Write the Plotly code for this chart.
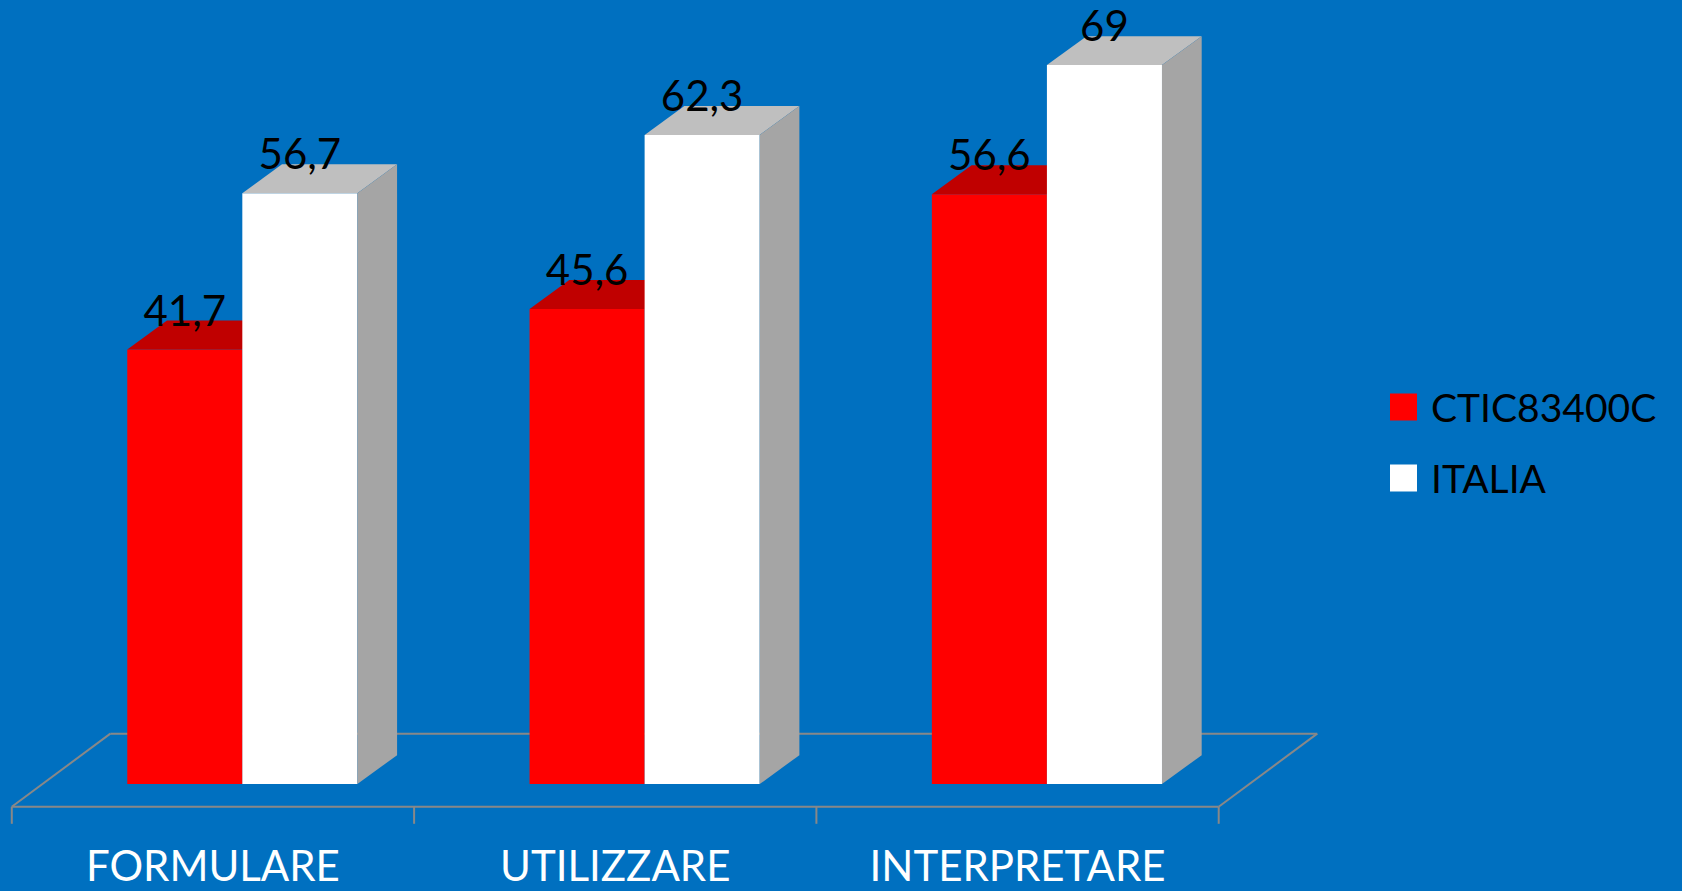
import plotly.graph_objects as go

# ---- data ----
categories = ["FORMULARE", "UTILIZZARE", "INTERPRETARE"]
series_names = ["CTIC83400C", "ITALIA"]
school = [41.7, 45.6, 56.6]
italia = [56.7, 62.3, 69]

# ---- styling / geometry (in axis units) ----
BG = "#0070C0"
FRONT = ["#FF0000", "#FFFFFF"]
TOP = ["#C00000", "#BFBFBF"]
SIDE = ["#A00000", "#A5A5A5"]
FLOOR_COL = "#888888"
FONT = "Lato"

BAR_W = 0.286
PAIR_OFF = 0.073
DEPTH_DX = 0.0987
DEPTH_DY = 2.78
FLOOR_FRONT = -2.17
FLOOR_BACK = 4.84
FLOOR_DX = 0.245
TICK_BOTTOM = -3.81
LABEL_GAP = 3.3
CAT_LABEL_Y = -8.3

def fmt(v):
    return str(v).replace(".", ",")

fig = go.Figure()

def poly(xs, ys, color):
    fig.add_trace(go.Scatter(x=xs + [xs[0]], y=ys + [ys[0]], mode="lines", fill="toself",
                             fillcolor=color, line=dict(width=0, color=color),
                             hoverinfo="skip", showlegend=False))

def line(xs, ys):
    fig.add_trace(go.Scatter(x=xs, y=ys, mode="lines", line=dict(color=FLOOR_COL, width=2),
                             hoverinfo="skip", showlegend=False))

n = len(categories)
# floor
x0, x1 = -0.5, n - 0.5
line([x0 + FLOOR_DX, x1 + FLOOR_DX], [FLOOR_BACK, FLOOR_BACK])
line([x0, x0 + FLOOR_DX], [FLOOR_FRONT, FLOOR_BACK])
line([x1, x1 + FLOOR_DX], [FLOOR_FRONT, FLOOR_BACK])
line([x0, x1], [FLOOR_FRONT, FLOOR_FRONT])
for i in range(n + 1):
    line([x0 + i, x0 + i], [FLOOR_FRONT, TICK_BOTTOM])

# bars
label_x, label_y, label_t = [], [], []
for i in range(n):
    for s, vals in enumerate([school, italia]):
        v = vals[i]
        left = i + PAIR_OFF - BAR_W + s * BAR_W
        right = left + BAR_W
        # front
        poly([left, right, right, left], [0, 0, v, v], FRONT[s])
        # top
        poly([left, right, right + DEPTH_DX, left + DEPTH_DX],
             [v, v, v + DEPTH_DY, v + DEPTH_DY], TOP[s])
        # side
        poly([right, right + DEPTH_DX, right + DEPTH_DX, right],
             [0, DEPTH_DY, v + DEPTH_DY, v], SIDE[s])
        label_x.append((left + right) / 2)
        label_y.append(v + LABEL_GAP)
        label_t.append(fmt(v))

fig.add_trace(go.Scatter(x=label_x, y=label_y, text=label_t, mode="text",
                         textposition="middle center",
                         textfont=dict(family=FONT, size=42, color="black"),
                         hoverinfo="skip", showlegend=False, cliponaxis=False))

fig.add_trace(go.Scatter(x=list(range(n)), y=[CAT_LABEL_Y] * n, text=categories, mode="text",
                         textposition="middle center",
                         textfont=dict(family=FONT, size=42, color="white"),
                         hoverinfo="skip", showlegend=False))

# legend (drawn manually to match large square swatches)
W, H = 1682, 891
leg_y = [407, 478]
for k, name in enumerate(series_names):
    yc = leg_y[k]
    fig.add_shape(type="rect", xref="paper", yref="paper",
                  x0=1390 / W, x1=1417 / W, y0=1 - (yc + 13.5) / H, y1=1 - (yc - 13.5) / H,
                  fillcolor=FRONT[k], line=dict(width=0))
    fig.add_annotation(x=1429 / W, y=1 - yc / H, xref="paper", yref="paper",
                       text=name, showarrow=False, xanchor="left", yanchor="middle",
                       font=dict(family=FONT, size=39, color="black"))

PX_PER_CAT = 402.3
PX_PER_UNIT = 10.42
X_ORIGIN_PX = 11.8  # px of x=-0.5
BASE_PX = 784.1     # px of y=0
xr = [-0.5 - X_ORIGIN_PX / PX_PER_CAT, -0.5 + (W - X_ORIGIN_PX) / PX_PER_CAT]
yr = [-(H - BASE_PX) / PX_PER_UNIT, BASE_PX / PX_PER_UNIT]

fig.update_layout(
    width=W, height=H,
    margin=dict(l=0, r=0, t=0, b=0),
    paper_bgcolor=BG, plot_bgcolor=BG,
    showlegend=False,
    xaxis=dict(range=xr, visible=False, fixedrange=True),
    yaxis=dict(range=yr, visible=False, fixedrange=True),
)

fig.write_html("out.html", config={"displayModeBar": False},
               post_script="document.body.style.margin='0';document.body.style.overflow='hidden';")
